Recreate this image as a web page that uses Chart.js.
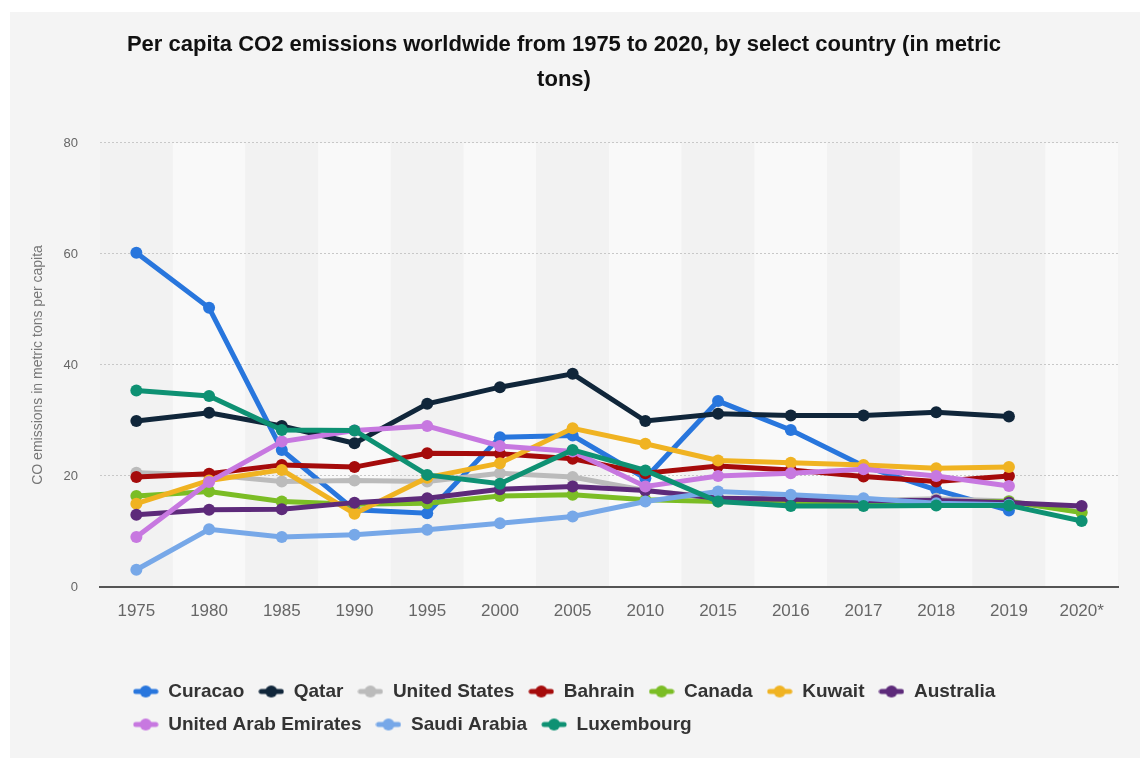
<!DOCTYPE html>
<html>
<head>
<meta charset="utf-8">
<script src="https://cdn.jsdelivr.net/npm/chart.js@4.4.1/dist/chart.umd.min.js"></script>
<style>
  html, body { margin: 0; padding: 0; background: #fff; }
  #wrap { width: 1140px; height: 758px; }
</style>
</head>
<body>
<div id="wrap"><canvas id="co2Chart" width="1140" height="758"></canvas></div>
<script>
const years = ["1975", "1980", "1985", "1990", "1995", "2000", "2005", "2010", "2015", "2016", "2017", "2018", "2019", "2020*"];

const curacao      = [60.2, 50.3, 24.7, 13.9, 13.3, 27.0, 27.3, 19.6, 33.5, 28.3, 21.8, 17.5, 13.8, null];
const qatar        = [29.9, 31.4, 29.0, 25.9, 33.0, 36.0, 38.4, 29.9, 31.2, 30.9, 30.9, 31.5, 30.7, null];
const unitedStates = [20.6, 20.2, 19.0, 19.2, 19.0, 20.5, 19.8, 17.4, 16.1, 15.7, 15.6, 15.9, 15.5, 13.5];
const bahrain      = [19.8, 20.4, 22.0, 21.6, 24.1, 24.0, 23.1, 20.5, 21.8, 21.1, 19.9, 19.0, 20.0, null];
const canada       = [16.4, 17.2, 15.4, 14.9, 15.1, 16.4, 16.6, 15.7, 15.4, 15.2, 15.1, 15.3, 15.4, 13.4];
const kuwait       = [15.0, 19.2, 21.1, 13.2, 19.7, 22.3, 28.6, 25.8, 22.8, 22.4, 22.0, 21.4, 21.6, null];
const australia    = [13.0, 13.9, 14.0, 15.2, 16.0, 17.6, 18.1, 17.4, 16.0, 15.8, 15.6, 15.6, 15.2, 14.6];
const uae          = [9.0, 18.9, 26.2, 28.2, 29.0, 25.4, 24.4, 18.1, 20.0, 20.5, 21.2, 20.0, 18.2, null];
const saudiArabia  = [3.1, 10.4, 9.0, 9.4, 10.3, 11.5, 12.7, 15.4, 17.2, 16.6, 16.0, 15.1, 14.8, null];
const luxembourg   = [35.4, 34.4, 28.3, 28.2, 20.2, 18.6, 24.7, 21.0, 15.4, 14.6, 14.6, 14.7, 14.7, 11.9];

const yTicks = [0, 20, 40, 60, 80];

const series = [
  { label: "Curacao", data: curacao, color: "#2876dd" },
  { label: "Qatar", data: qatar, color: "#10263a" },
  { label: "United States", data: unitedStates, color: "#bbbbbb" },
  { label: "Bahrain", data: bahrain, color: "#a50b0b" },
  { label: "Canada", data: canada, color: "#7bbd25" },
  { label: "Kuwait", data: kuwait, color: "#f0b322" },
  { label: "Australia", data: australia, color: "#5d2a7a" },
  { label: "United Arab Emirates", data: uae, color: "#c778e0" },
  { label: "Saudi Arabia", data: saudiArabia, color: "#77a8e8" },
  { label: "Luxembourg", data: luxembourg, color: "#0e9173" },
];

// small line-with-dot icon for the legend
function legendIcon(color) {
  const c = document.createElement("canvas");
  c.width = 26;
  c.height = 14;
  const g = c.getContext("2d");
  g.strokeStyle = color;
  g.lineWidth = 5;
  g.lineCap = "round";
  g.beginPath();
  g.moveTo(3, 7);
  g.lineTo(23, 7);
  g.stroke();
  g.fillStyle = color;
  g.beginPath();
  g.arc(13, 7, 6, 0, Math.PI * 2);
  g.fill();
  return c;
}

// page panel and alternating column bands
const background = {
  id: "background",
  beforeDraw(chart) {
    const { ctx, chartArea, scales } = chart;
    ctx.save();
    ctx.fillStyle = "#ffffff";
    ctx.fillRect(0, 0, chart.width, chart.height);
    ctx.fillStyle = "#f4f4f4";
    ctx.fillRect(10, 12, chart.width - 10, chart.height - 12);
    const x = scales.x;
    const step = (chartArea.right - chartArea.left) / years.length;
    years.forEach((y, i) => {
      const cx = x.getPixelForValue(i);
      ctx.fillStyle = i % 2 === 0 ? "#f2f2f2" : "#f9f9f9";
      ctx.fillRect(cx - step / 2, chartArea.top, step, chartArea.bottom - chartArea.top);
    });
    ctx.restore();
  },
};

// legend rows share the first row's left edge instead of each being centred
const legendRows = {
  id: "legendRows",
  beforeDraw(chart) {
    const lw = chart.legend && chart.legend.lineWidths;
    if (lw && lw.length > 1) {
      const widest = Math.max(...lw);
      lw.fill(widest);
    }
  },
};

const n = series.length;
const datasets = series.map((s, i) => ({
  label: s.label,
  data: s.data,
  borderColor: s.color,
  backgroundColor: s.color,
  pointBackgroundColor: s.color,
  pointBorderColor: s.color,
  borderWidth: 5,
  pointRadius: 6,
  pointBorderWidth: 0,
  pointStyle: "circle",
  legendIcon: legendIcon(s.color),
  tension: 0,
  spanGaps: false,
  order: n - i,
}));

new Chart(document.getElementById("co2Chart"), {
  type: "line",
  data: { labels: years, datasets },
  options: {
    responsive: false,
    animation: false,
    layout: { padding: { left: 10, top: 12, right: 22, bottom: 14 } },
    plugins: {
      title: {
        display: true,
        text: [
          "Per capita CO2 emissions worldwide from 1975 to 2020, by select country (in metric",
          "tons)",
        ],
        color: "#111111",
        font: { family: "'Liberation Sans', Arial, sans-serif", size: 22, weight: "bold", lineHeight: 1.59 },
        padding: { top: 15.5, bottom: 45.5 },
      },
      legend: {
        position: "bottom",
        labels: {
          usePointStyle: true,
          pointStyleWidth: 26,
          padding: 14,
          color: "#333333",
          font: { family: "'Liberation Sans', Arial, sans-serif", size: 19, weight: "bold" },
          sort: (a, b) => a.datasetIndex - b.datasetIndex,
          generateLabels(chart) {
            return chart.data.datasets.map((d, i) => ({
              text: d.label,
              datasetIndex: i,
              pointStyle: d.legendIcon,
              fillStyle: d.borderColor,
              strokeStyle: d.borderColor,
              lineWidth: 0,
              fontColor: "#333333",
              hidden: false,
            }));
          },
        },
      },
      tooltip: { enabled: false },
    },
    scales: {
      x: {
        type: "category",
        offset: true,
        grid: { display: false, drawTicks: false },
        border: { display: true, color: "#555555", width: 2 },
        ticks: {
          color: "#666666",
          padding: 14,
          font: { family: "'Liberation Sans', Arial, sans-serif", size: 17 },
          maxRotation: 0,
          autoSkip: false,
        },
        afterFit(scale) { scale.height = 81; },
      },
      y: {
        min: 0,
        max: 80,
        afterBuildTicks(scale) { scale.ticks = yTicks.map((v) => ({ value: v })); },
        grid: {
          color: "#c8c8c8",
          lineWidth: 1,
          drawTicks: false,
        },
        border: { display: false, dash: [2, 2] },
        ticks: {
          color: "#666666",
          padding: 22,
          font: { family: "'Liberation Sans', Arial, sans-serif", size: 13 },
        },
        title: {
          display: true,
          text: "CO emissions in metric tons per capita",
          color: "#777777",
          padding: { top: 20, bottom: 0 },
          font: { family: "'Liberation Sans', Arial, sans-serif", size: 14 },
        },
        afterFit(scale) { scale.width = 90; },
      },
    },
  },
  plugins: [background, legendRows],
});
</script>
</body>
</html>
